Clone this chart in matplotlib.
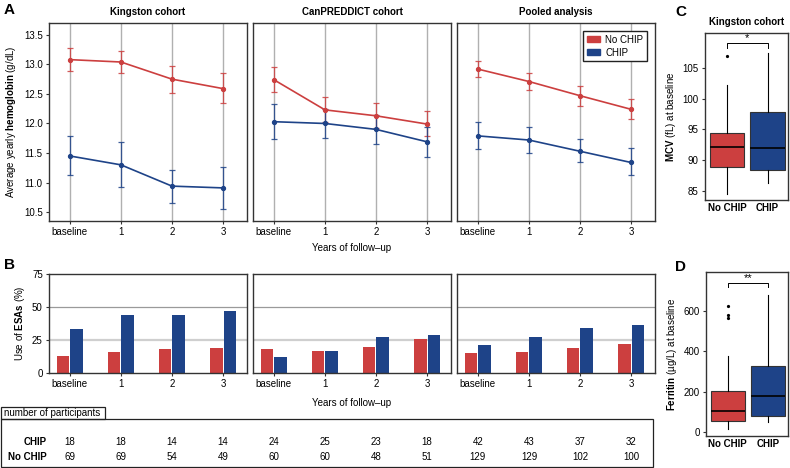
import matplotlib
matplotlib.use('Agg')
import matplotlib.pyplot as plt
from matplotlib.patches import Patch, Rectangle
from matplotlib.transforms import blended_transform_factory
import numpy as np

plt.rcParams['font.family'] = ['Liberation Sans', 'DejaVu Sans']
plt.rcParams['mathtext.fontset'] = 'custom'
plt.rcParams['mathtext.rm'] = 'Liberation Sans'
plt.rcParams['mathtext.bf'] = 'Liberation Sans:bold'

# ---------------- data ----------------
timepoints = ['baseline', '1', '2', '3']
cohorts = ['Kingston cohort', 'CanPREDDICT cohort', 'Pooled analysis']
groups = ['No CHIP', 'CHIP']

hb_nochip_mean = [[13.08, 13.04, 12.75, 12.59], [12.74, 12.23, 12.13, 11.99], [12.92, 12.71, 12.47, 12.24]]
hb_nochip_lo = [[12.89, 12.85, 12.52, 12.34], [12.53, 12.03, 11.93, 11.79], [12.78, 12.57, 12.30, 12.07]]
hb_nochip_hi = [[13.27, 13.23, 12.98, 12.85], [12.95, 12.44, 12.34, 12.21], [13.06, 12.85, 12.64, 12.41]]
hb_chip_mean = [[11.45, 11.30, 10.94, 10.91], [12.03, 12.00, 11.90, 11.69], [11.79, 11.72, 11.53, 11.34]]
hb_chip_lo = [[11.12, 10.92, 10.66, 10.56], [11.73, 11.76, 11.66, 11.43], [11.57, 11.50, 11.34, 11.12]]
hb_chip_hi = [[11.78, 11.68, 11.22, 11.26], [12.33, 12.25, 12.14, 11.94], [12.02, 11.94, 11.73, 11.58]]

esa_nochip = [[13, 16, 18, 19], [18, 17, 20, 26], [15, 16, 19, 22]]
esa_chip = [[33, 44, 44, 47], [12, 17, 27, 29], [21, 27, 34, 36]]

n_chip = [[18, 18, 14, 14], [24, 25, 23, 18], [42, 43, 37, 32]]
n_nochip = [[69, 69, 54, 49], [60, 60, 48, 51], [129, 129, 102, 100]]

# MCV (fL) box statistics, Kingston cohort: No CHIP, CHIP
mcv_q1 = [88.8, 88.4]
mcv_med = [92.1, 92.0]
mcv_q3 = [94.4, 97.8]
mcv_whislo = [84.4, 86.3]
mcv_whishi = [102.2, 107.5]
mcv_fliers = [[107.0], []]
mcv_sig = '*'

# Ferritin (ug/L) box statistics
fer_q1 = [55, 80]
fer_med = [104, 177]
fer_q3 = [203, 329]
fer_whislo = [13, 48]
fer_whishi = [377, 680]
fer_fliers = [[565, 580, 625], []]
fer_sig = '**'

# ---------------- style ----------------
RED = '#CC3F3F'
BLUE = '#1E4388'
W, H = 790, 468
fig = plt.figure(figsize=(W / 100, H / 100), dpi=100)

def fax(x0, y0, x1, y1):
    return fig.add_axes([x0 / W, 1 - y1 / H, (x1 - x0) / W, (y1 - y0) / H])

panel_x = [(49, 247), (253, 451), (457, 655)]
x = np.arange(len(timepoints))
FS = 7
SPINE = '#333333'

def style_spines(ax):
    for s in ax.spines.values():
        s.set_color(SPINE)
        s.set_linewidth(1.0)
    ax.tick_params(axis='both', labelsize=FS, length=2.5, width=0.8, color=SPINE, pad=2)

# ---------------- Panel A ----------------
axesA = []
for i, (x0, x1) in enumerate(panel_x):
    ax = fax(x0, 23, x1, 221)
    axesA.append(ax)
    for xi in x:
        ax.axvline(xi, color='#b0b0b0', lw=1.0, zorder=0)
    for mean, lo, hi, col in [(hb_nochip_mean[i], hb_nochip_lo[i], hb_nochip_hi[i], RED),
                              (hb_chip_mean[i], hb_chip_lo[i], hb_chip_hi[i], BLUE)]:
        mean = np.array(mean); lo = np.array(lo); hi = np.array(hi)
        ax.errorbar(x, mean, yerr=[mean - lo, hi - mean], fmt='none', ecolor=col,
                    elinewidth=0.9, capsize=2.5, capthick=0.9, alpha=0.85, zorder=2)
        ax.plot(x, mean, '-o', color=col, lw=1.2, ms=2.8, zorder=3)
    ax.set_xlim(-0.41, 3.47)
    ax.set_ylim(10.35, 13.7)
    ax.set_xticks(x)
    ax.set_xticklabels(timepoints)
    ax.set_yticks(np.arange(10.5, 13.51, 0.5))
    if i == 0:
        ax.set_yticklabels([f'{v:.1f}' for v in np.arange(10.5, 13.51, 0.5)])
    else:
        ax.tick_params(axis='y', left=False, labelleft=False)
    style_spines(ax)
    ax.set_title(cohorts[i], fontsize=FS, fontweight='bold', pad=6)

axesA[2].legend(handles=[Patch(color=RED, label=groups[0]), Patch(color=BLUE, label=groups[1])],
                loc='upper right', fontsize=FS, frameon=True, fancybox=False, edgecolor='#222222',
                handlelength=1.4, handleheight=0.6, borderpad=0.4, labelspacing=0.3,
                handletextpad=0.5, borderaxespad=0.8, framealpha=1)

fig.text(11 / W, 1 - 122 / H, r'Average yearly $\mathbf{hemoglobin}$ (g/dL)', rotation=90,
         ha='center', va='center', fontsize=FS)
fig.text(352 / W, 1 - 248 / H, 'Years of follow\u2013up', ha='center', va='center', fontsize=FS)
fig.text(4 / W, 1 - 10 / H, 'A', fontsize=11, fontweight='bold', ha='left', va='center')

# ---------------- Panel B ----------------
axesB = []
bw = 0.25
for i, (x0, x1) in enumerate(panel_x):
    ax = fax(x0, 274, x1, 373)
    axesB.append(ax)
    ax.axhline(25, color='#cfcfcf', lw=1.6, zorder=0)
    ax.axhline(50, color='#9a9a9a', lw=0.9, zorder=0)
    ax.bar(x - 0.135, esa_nochip[i], width=bw, color=RED, zorder=2)
    ax.bar(x + 0.135, esa_chip[i], width=bw, color=BLUE, zorder=2)
    ax.set_xlim(-0.41, 3.47)
    ax.set_ylim(0, 75)
    ax.set_xticks(x)
    ax.set_xticklabels(timepoints)
    ax.set_yticks([0, 25, 50, 75])
    if i != 0:
        ax.tick_params(axis='y', left=False, labelleft=False)
    style_spines(ax)

fig.text(20 / W, 1 - 323 / H, r'Use of $\mathbf{ESAs}$ (%)', rotation=90,
         ha='center', va='center', fontsize=FS)
fig.text(352 / W, 1 - 403 / H, 'Years of follow\u2013up', ha='center', va='center', fontsize=FS)
fig.text(4 / W, 1 - 265 / H, 'B', fontsize=11, fontweight='bold', ha='left', va='center')

# ---------------- Table ----------------
fig.patches.append(Rectangle((1 / W, 1 - 467 / H), 652 / W, 48 / H, transform=fig.transFigure,
                             fill=False, edgecolor='#222222', lw=0.9))
fig.patches.append(Rectangle((1 / W, 1 - 419 / H), 104 / W, 12 / H, transform=fig.transFigure,
                             fill=False, edgecolor='#222222', lw=0.9))
fig.text(4 / W, 1 - 413 / H, 'number of participants', fontsize=FS, ha='left', va='center')
fig.text(47 / W, 1 - 442 / H, 'CHIP', fontsize=FS, fontweight='bold', ha='right', va='center')
fig.text(47 / W, 1 - 457 / H, 'No CHIP', fontsize=FS, fontweight='bold', ha='right', va='center')
for i, ax in enumerate(axesB):
    tr = blended_transform_factory(ax.transData, fig.transFigure)
    for j in range(len(timepoints)):
        fig.text(x[j], 1 - 442 / H, str(n_chip[i][j]), transform=tr, fontsize=FS, ha='center', va='center')
        fig.text(x[j], 1 - 457 / H, str(n_nochip[i][j]), transform=tr, fontsize=FS, ha='center', va='center')

# ---------------- Panels C and D ----------------
def boxpanel(ax, q1, med, q3, lo, hi, fliers, sig, sig_y, tick_h):
    stats = []
    for k in range(2):
        stats.append(dict(med=med[k], q1=q1[k], q3=q3[k], whislo=lo[k], whishi=hi[k],
                          fliers=fliers[k], label=groups[k]))
    bp = ax.bxp(stats, positions=[1, 2], widths=0.85, patch_artist=True, showcaps=False,
                boxprops=dict(edgecolor='#333333', linewidth=0.8),
                medianprops=dict(color='black', linewidth=1.2),
                whiskerprops=dict(color='black', linewidth=0.8),
                flierprops=dict(marker='o', markersize=1.3, markerfacecolor='black',
                                markeredgecolor='black'))
    for patch, col in zip(bp['boxes'], [RED, BLUE]):
        patch.set_facecolor(col)
    ax.plot([1, 1, 2, 2], [sig_y - tick_h, sig_y, sig_y, sig_y - tick_h], color='black', lw=0.7)
    ax.text(1.5, sig_y, sig, ha='center', va='bottom', fontsize=8)
    ax.set_xlim(0.46, 2.5)
    ax.set_xticks([1, 2])
    ax.set_xticklabels(groups, fontweight='bold', fontsize=FS + 0.5)
    style_spines(ax)
    ax.tick_params(axis='x', length=0)

axC = fax(705, 33, 788, 200)
boxpanel(axC, mcv_q1, mcv_med, mcv_q3, mcv_whislo, mcv_whishi, mcv_fliers, mcv_sig, 109.0, 0.8)
axC.set_ylim(83.5, 110.7)
axC.set_yticks([85, 90, 95, 100, 105])
axC.set_ylabel(r'$\mathbf{MCV}$ (fL) at baseline', fontsize=FS, labelpad=3)
axC.set_title('Kingston cohort', fontsize=FS, fontweight='bold', pad=6)
fig.text(675 / W, 1 - 12 / H, 'C', fontsize=11, fontweight='bold', ha='left', va='center')

axD = fax(706, 272, 788, 436)
boxpanel(axD, fer_q1, fer_med, fer_q3, fer_whislo, fer_whishi, fer_fliers, fer_sig, 738, 18)
axD.set_ylim(-20, 793)
axD.set_yticks([0, 200, 400, 600])
axD.set_ylabel(r'$\mathbf{Ferritin}$ (µg/L) at baseline', fontsize=FS, labelpad=3)
fig.text(675 / W, 1 - 267 / H, 'D', fontsize=11, fontweight='bold', ha='left', va='center')

fig.savefig('out.png', dpi=100)
